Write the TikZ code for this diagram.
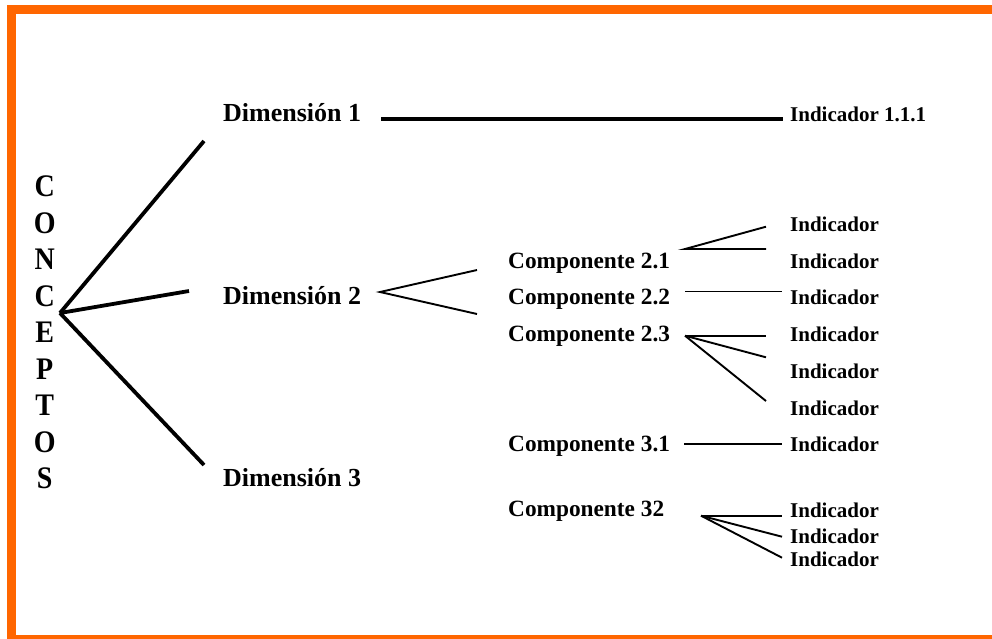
\documentclass[tikz,border=0pt]{standalone}
\usepackage{fontspec}
\setmainfont{Liberation Serif}
\definecolor{frameorange}{RGB}{255,102,0}
\begin{document}
\begin{tikzpicture}[x=1pt,y=-1pt,
  dim/.style={inner sep=0pt, anchor=base west, font=\fontsize{26}{26}\selectfont\bfseries},
  comp/.style={inner sep=0pt, anchor=base west, font=\fontsize{23.3}{23.3}\selectfont\bfseries},
  ind/.style={inner sep=0pt, anchor=base west, font=\fontsize{21}{21}\selectfont\bfseries},
  letter/.style={inner sep=0pt, anchor=base, yscale=1.12, font=\fontsize{28}{28}\selectfont\bfseries},
  heavy/.style={line width=3.8pt},
  medium/.style={line width=1.9pt},
  light/.style={line width=1.3pt},
  frame/.style={draw=frameorange, line width=8.4pt}
]
\useasboundingbox (0,0) rectangle (992,638);
\begin{scope}
\clip (0,0) rectangle (992,638);
\draw[frame] (11.5,9.3) rectangle (1010,639.5);
\end{scope}

% CONCEPTOS column
\foreach \ch [count=\i] in {C,O,N,C,E,P,T,O,S}
  \node[letter] (l\i) at (44.7,{196.7+(\i-1)*36.5}) {\ch};

% hub and dimension branches
\coordinate (hub) at (60,313);
\coordinate (b1) at (204,141);
\coordinate (b2) at (189,291);
\coordinate (b3) at (204,465);
\draw[heavy] (hub) -- (b1);
\draw[heavy] (hub) -- (b2);
\draw[heavy] (hub) -- (b3);

\node[dim] (d1) at (223,121.7) {Dimensión 1};
\node[dim] (d2) at (223,304) {Dimensión 2};
\node[dim] (d3) at (223,486.5) {Dimensión 3};

% Dimension 1 -> Indicador 1.1.1
\node[ind] (i111) at (790,121.7) {Indicador 1.1.1};
\coordinate (r1a) at (381,119);
\coordinate (r1b) at (783,119);
\draw[heavy] (r1a) -- (r1b);

% Dimension 2 fork
\coordinate (f2) at (380,292);
\coordinate (f2u) at (477,270);
\coordinate (f2d) at (477,314);
\draw[medium] (f2u) -- (f2) -- (f2d);

\node[comp] (c21) at (508,268.5) {Componente 2.1};
\node[comp] (c22) at (508,304.3) {Componente 2.2};
\node[comp] (c23) at (508,341) {Componente 2.3};
\node[comp] (c31) at (508,451.7) {Componente 3.1};
\node[comp] (c32) at (508,516.7) {Componente 32};

\node[ind] (i1) at (790,231.7) {Indicador};
\node[ind] (i2) at (790,268.3) {Indicador};
\node[ind] (i3) at (790,304.3) {Indicador};
\node[ind] (i4) at (790,341.7) {Indicador};
\node[ind] (i5) at (790,378.3) {Indicador};
\node[ind] (i6) at (790,415) {Indicador};
\node[ind] (i7) at (790,451.7) {Indicador};
\node[ind] (i8) at (790,517.3) {Indicador};
\node[ind] (i9) at (790,543.3) {Indicador};
\node[ind] (i10) at (790,566.7) {Indicador};

% Componente 2.1 fork
\coordinate (a21) at (685,249);
\coordinate (e21u) at (766,226.7);
\coordinate (e21d) at (766,249);
\draw[medium] (e21u) -- (a21) -- (e21d);

% Componente 2.2 line
\coordinate (a22) at (685,291.7);
\coordinate (e22) at (782,291.7);
\draw[light] (a22) -- (e22);

% Componente 2.3 fan
\coordinate (a23) at (685,335.7);
\coordinate (e23a) at (766,335.7);
\coordinate (e23b) at (766,357.3);
\coordinate (e23c) at (766,401);
\draw[medium] (a23) -- (e23a);
\draw[medium] (a23) -- (e23b);
\draw[medium] (a23) -- (e23c);

% Componente 3.1 line
\coordinate (a31) at (684,444);
\coordinate (e31) at (782,444);
\draw[light] (a31) -- (e31);

% Componente 32 fan
\coordinate (a32) at (701,515.7);
\coordinate (e32a) at (782,515.7);
\coordinate (e32b) at (782,536.7);
\coordinate (e32c) at (782,557.7);
\draw[medium] (a32) -- (e32a);
\draw[medium] (a32) -- (e32b);
\draw[medium] (a32) -- (e32c);
\end{tikzpicture}
\end{document}
